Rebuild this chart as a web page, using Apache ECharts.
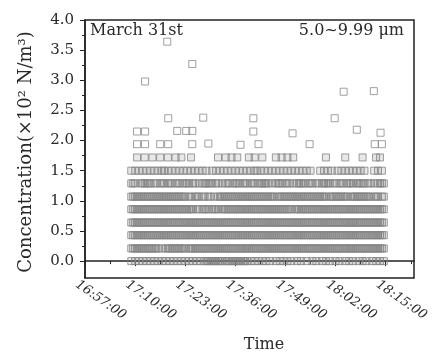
<!DOCTYPE html>
<html><head><meta charset="utf-8">
<script src="https://cdn.jsdelivr.net/npm/echarts@6/dist/echarts.min.js"></script>
<style>html,body{margin:0;padding:0;background:#fff}#c{width:432px;height:358px}</style>
</head><body><div id="c"></div>
<script>
// ---- data ----
const axisStart = '16:57:00';
const axisEnd = '18:22:20';
const xTickLabels = ['16:57:00','17:10:00','17:23:00','17:36:00','17:49:00','18:02:00','18:15:00'];
const yTickLabels = ['0.0','0.5','1.0','1.5','2.0','2.5','3.0','3.5','4.0'];
const yTickValues = [0,0.5,1,1.5,2,2.5,3,3.5,4];
const yMin = -0.28, yMax = 4.0;

// quantised concentration levels of the dense rows
const rowLevels = [0, 0.21, 0.43, 0.64, 0.86, 1.07, 1.29, 1.5, 1.72];
// occupancy of each row in 30-second slots starting at rowStart ('#' = point present)
const rowStart = '17:09:00';
const rowSlotSeconds = 30;
const rowOccupancy = [
 "#.#.#.#.#. #.#.#.#.#. #.#.#.#.#. #.#.#.#.## ########.# ########## #.#.#.#.#. #.#..#.#.# .#.#..#.#. .#..#.#..# .#.#..#.#. .#.#.#..#. #.#..#.#.# .#",
 "########## #####.#.## #########. ########## ########## ########## ########## ########## ########## ########## ########## ########## ########## ##",
 "########## ########## ########## ########## ########## ########## ########## ########## ########## ########## ########## ########## ########## ##",
 "########## ########## ########## ########## ########## ########## ########## ########## ########## ########## ########## ########## ########## ##",
 "########## ########## ########## ###.##.### #.####.### ########## ########## ########## ####.##### ########## ########## ########## ########## ##",
 "########## ########## #########. ##.###.##. ##.#.##### ########## ########## #####.#### ########## ########## ##.####### ###.###### #####.###. ##",
 "###..##### #.##.###.# ##.###.### #.##.#.### ###.##.#.# ##.####.## #.###.#### ##.#.####. ###.#.#### #.###.##.# ####.##.## #.####.### ##.##.#.## ##",
 "#.#.#.#.#. #.#.#.##.# .#.#.#.#.# .#.#.#.#.# ..#.#.#.#. #.#.#.#.#. #.#.##.#.# .#.#.#.#.# .#.#.#.#.# .#.#....#. #.#.#..#.# .#.#.#.#.# .#....#.#. #.",
 "...#...#.. .#...#...# ...#..#... .#........ .....#...# ..#..#.... .#..#...#. .....#..#. .#..#..... .......... .#........ .#........ #......#.# .."
];
// isolated higher readings
const sparseTimes = [
 '17:18:20','17:24:50','17:12:35','18:04:05','18:11:55',
 '17:18:35','17:27:40','17:40:40','18:01:45',
 '17:10:30','17:12:35','17:20:55','17:23:15','17:24:50','17:40:40','17:50:50','18:07:30','18:13:40',
 '17:10:30','17:12:35','17:16:30','17:18:35','17:24:50','17:29:00','17:37:20','17:42:00','17:55:15','18:12:10','18:14:00'
];
const sparseValues = [
 3.64,3.27,2.98,2.81,2.82,
 2.37,2.38,2.37,2.37,
 2.15,2.15,2.16,2.16,2.16,2.15,2.12,2.18,2.13,
 1.94,1.94,1.94,1.94,1.94,1.95,1.93,1.94,1.94,1.94,1.94
];

// ---- build ----
function toMin(t){const p=t.split(':').map(Number);const q=axisStart.split(':').map(Number);
  return (p[0]*60+p[1]+p[2]/60)-(q[0]*60+q[1]+q[2]/60);}
const denseData=[];
const r0=toMin(rowStart);
rowOccupancy.forEach((str,k)=>{const s=str.replace(/\s+/g,'');
  for(let i=0;i<s.length;i++){ if(s[i]==='#') denseData.push([r0+i*rowSlotSeconds/60,rowLevels[k]]); }});
const sparseData=sparseTimes.map((t,i)=>[toMin(t),sparseValues[i]]);

const xMajor = xTickLabels.map(toMin);
const xMinor = xMajor.map(v=>v+ (xMajor[1]-xMajor[0])/2);
const yMinor = yTickValues.slice(0,-1).map(v=>v+0.25);

const txt='#2a2a2a', font='DejaVu Serif';
const chart=echarts.init(document.getElementById('c'),null,{renderer:'canvas'});
chart.setOption({
  animation:false,
  backgroundColor:'#fff',
  grid:{left:85,right:18,top:20,bottom:74,show:true,borderColor:'#222',borderWidth:1.5,backgroundColor:'transparent'},
  xAxis:[{
    type:'value',min:0,max:toMin(axisEnd),position:'bottom',
    axisLine:{show:true,lineStyle:{color:'#222',width:1.5}},
    axisTick:{show:true,length:5,customValues:xMajor,lineStyle:{color:'#222'}},
    axisLabel:{customValues:xMajor,rotate:-35,margin:11,color:txt,fontFamily:font,fontStyle:'italic',fontSize:13,
      padding:[0,0,0,-10],
      formatter:v=>{const i=xMajor.findIndex(m=>Math.abs(m-v)<1e-6);return i>=0?xTickLabels[i]:'';}},
    splitLine:{show:false},
    name:'Time',nameLocation:'middle',nameGap:59,
    nameTextStyle:{color:txt,fontFamily:font,fontSize:16,padding:[0,0,0,29]}
  },{
    type:'value',min:0,max:toMin(axisEnd),position:'bottom',
    axisLine:{show:false},axisLabel:{show:false},splitLine:{show:false},
    axisTick:{show:true,length:3,customValues:xMinor,lineStyle:{color:'#222'}}
  }],
  yAxis:[{
    type:'value',min:yMin,max:yMax,position:'left',
    axisLine:{show:true,lineStyle:{color:'#222',width:1.5}},
    axisTick:{show:true,length:5,customValues:yTickValues,lineStyle:{color:'#222'}},
    axisLabel:{customValues:yTickValues,margin:11,color:txt,fontFamily:font,fontSize:15,
      formatter:v=>{const i=yTickValues.findIndex(m=>Math.abs(m-v)<1e-6);return i>=0?yTickLabels[i]:'';}},
    splitLine:{show:false},
    name:'Concentration(×10² N/m³)',nameLocation:'middle',nameGap:50,
    nameTextStyle:{color:txt,fontFamily:font,fontSize:18,padding:[0,6,0,0]}
  },{
    type:'value',min:yMin,max:yMax,position:'left',
    axisLine:{show:false},axisLabel:{show:false},splitLine:{show:false},
    axisTick:{show:true,length:3,customValues:yMinor,lineStyle:{color:'#222'}}
  }],
  graphic:[
    {type:'text',left:90,top:23,style:{text:'March 31st',fill:txt,font:'16px "DejaVu Serif"'}},
    {type:'text',right:28,top:23,style:{text:'5.0~9.99 μm',fill:txt,font:'16px "DejaVu Serif"'}}
  ],
  series:[{
    type:'scatter',xAxisIndex:0,yAxisIndex:0,data:denseData,symbol:'rect',symbolSize:7,
    progressive:0,large:false,
    itemStyle:{color:'rgba(110,110,110,0.2)',borderColor:'#858585',borderWidth:1}
  },{
    type:'scatter',xAxisIndex:0,yAxisIndex:0,data:sparseData,symbol:'rect',symbolSize:7,
    progressive:0,large:false,
    itemStyle:{color:'rgba(0,0,0,0)',borderColor:'#888',borderWidth:1}
  }]
});
</script></body></html>
